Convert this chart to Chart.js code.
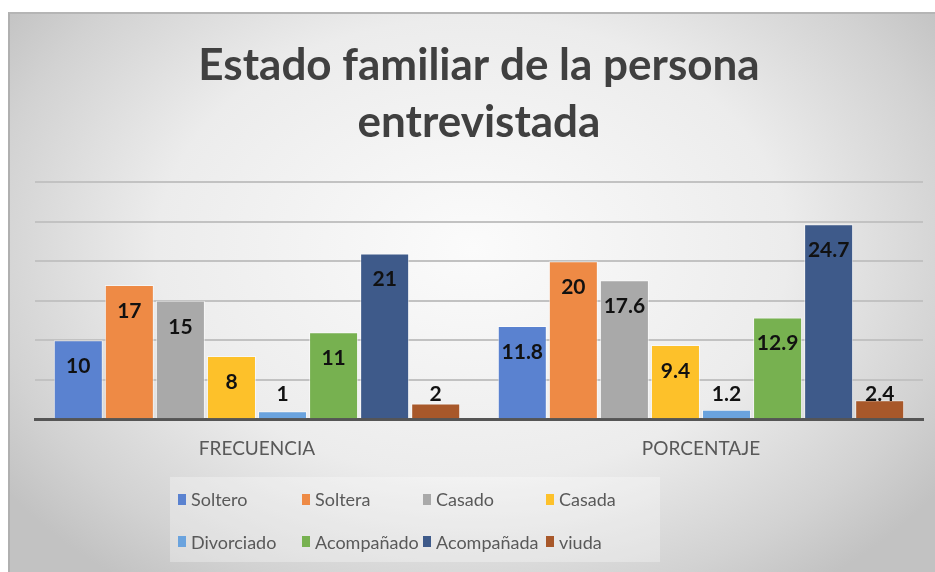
<!DOCTYPE html>
<html>
<head>
<meta charset="utf-8">
<script src="https://cdn.jsdelivr.net/npm/chart.js@4.4.1/dist/chart.umd.min.js"></script>
<style>
  html, body { margin: 0; padding: 0; background: #fff; }
  #wrap {
    position: absolute; left: 8px; top: 12px; width: 927px; height: 560px;
    border-top: 2px solid #b5b5b5; border-left: 2px solid #b0b0b0; box-sizing: border-box;
    background: radial-gradient(ellipse 62% 75% at 50% 42%, #fbfbfb 0%, #ececec 55%, #d2d2d2 85%, #c2c2c2 100%);
  }
  #wrap canvas { position: absolute; left: 0; top: 0; }
  #legend {
    position: absolute; left: 160px; top: 463px; width: 490px; height: 85px;
    background: rgba(255,255,255,0.3);
    display: grid; grid-template-columns: 124px 121px 123px 122px; grid-template-rows: 44px 41px;
    padding-left: 8px; box-sizing: border-box;
    font-family: Lato, sans-serif; font-size: 18px; color: #595959;
  }
  #legend div { display: flex; align-items: center; white-space: nowrap; }
  #legend span.box { display: inline-block; width: 8px; height: 11px; margin-right: 5px; }
</style>
</head>
<body>
<div id="wrap">
  <canvas id="chart" width="925" height="558"></canvas>
  <div id="legend"></div>
</div>
<script>
// Data
const categories = ['FRECUENCIA', 'PORCENTAJE'];
const seriesNames = ['Soltero', 'Soltera', 'Casado', 'Casada', 'Divorciado', 'Acompañado', 'Acompañada', 'viuda'];
const soltero = [10, 11.8];
const soltera = [17, 20];
const casado = [15, 17.6];
const casada = [8, 9.4];
const divorciado = [1, 1.2];
const acompanado = [11, 12.9];
const acompanada = [21, 24.7];
const viuda = [2, 2.4];
const yTicks = [0, 5, 10, 15, 20, 25, 30];

const seriesValues = [soltero, soltera, casado, casada, divorciado, acompanado, acompanada, viuda];
const colors = ['#5A82D0', '#EE8A45', '#A9A9A9', '#FDC12A', '#6AA3DE', '#77B150', '#3E5A8A', '#A8582A'];

// value labels, Excel "inside end" style
const valueLabels = {
    id: 'valueLabels',
    afterDatasetsDraw(chart) {
        const ctx = chart.ctx;
        ctx.save();
        ctx.font = 'bold 21px Lato, sans-serif';
        ctx.fillStyle = '#111';
        ctx.textAlign = 'center';
        ctx.textBaseline = 'middle';
        chart.data.datasets.forEach((ds, i) => {
            const meta = chart.getDatasetMeta(i);
            meta.data.forEach((bar, j) => {
                const y = Math.min(bar.y + 26, bar.base - 24);
                ctx.fillText(String(ds.data[j]), bar.x, y);
            });
        });
        ctx.restore();
    }
};

const ctx = document.getElementById('chart').getContext('2d');
new Chart(ctx, {
    type: 'bar',
    data: {
        labels: categories,
        datasets: seriesNames.map((name, i) => ({
            label: name,
            data: seriesValues[i],
            backgroundColor: colors[i],
            borderColor: 'rgba(255,255,255,0.55)',
            borderWidth: 1,
            categoryPercentage: 0.92,
            barPercentage: 0.96
        }))
    },
    options: {
        responsive: false,
        animation: false,
        layout: { padding: { left: 25, right: 12, top: 0, bottom: 102 } },
        plugins: {
            legend: { display: false },
            tooltip: { enabled: false },
            title: {
                display: true,
                text: ['Estado familiar de la persona', 'entrevistada'],
                color: '#404040',
                font: { family: 'Lato, sans-serif', size: 44, weight: 'bold', lineHeight: 1.3 },
                padding: { top: 23, bottom: 31 }
            }
        },
        scales: {
            x: {
                grid: { display: false },
                border: { display: true, color: '#555', width: 3 },
                ticks: { color: '#595959', font: { family: 'Lato, sans-serif', size: 19 }, padding: 10 }
            },
            y: {
                min: yTicks[0],
                max: yTicks[yTicks.length - 1],
                afterBuildTicks(scale) { scale.ticks = yTicks.map(v => ({ value: v })); },
                ticks: { display: false },
                border: { display: false },
                grid: { color: '#c2c2c2', lineWidth: 2, drawTicks: false }
            }
        }
    },
    plugins: [valueLabels]
});

// legend as html
const legend = document.getElementById('legend');
seriesNames.forEach((name, i) => {
    const item = document.createElement('div');
    item.innerHTML = '<span class="box" style="background:' + colors[i] + '"></span>' + name;
    legend.appendChild(item);
});
</script>
</body>
</html>
